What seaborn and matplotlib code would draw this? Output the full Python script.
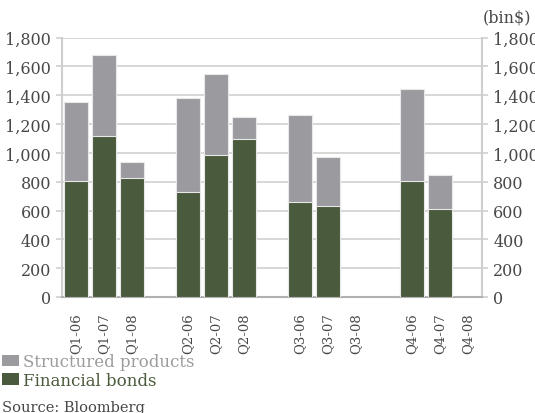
import matplotlib
matplotlib.use("Agg")
import matplotlib.pyplot as plt
from matplotlib.patches import Patch
import seaborn as sns
import pandas as pd

# Quarterly issuance, billions of dollars
quarters = ["Q1-06", "Q1-07", "Q1-08", "Q2-06", "Q2-07", "Q2-08",
            "Q3-06", "Q3-07", "Q4-06", "Q4-07"]
financial_bonds = [805, 1115, 825, 725, 985, 1097, 658, 630, 805, 611]
structured_products = [545, 565, 112, 655, 560, 150, 604, 344, 635, 236]

# Slot order along the x axis (blank slots separate the quarter groups)
slot_order = ["Q1-06", "Q1-07", "Q1-08", "gap1",
              "Q2-06", "Q2-07", "Q2-08", "gap2",
              "Q3-06", "Q3-07", "Q3-08", "gap3",
              "Q4-06", "Q4-07", "Q4-08"]
y_ticks = [0, 200, 400, 600, 800, 1000, 1200, 1400, 1600, 1800]

df = pd.DataFrame({
    "quarter": quarters,
    "financial": financial_bonds,
    "structured": structured_products,
})
df["total"] = df["financial"] + df["structured"]

GREY = "#9b9b9f"
GREEN = "#4a5a3c"
TEXT = "#484848"

sns.set_theme(style="white")
plt.rcParams["font.family"] = ["DejaVu Serif"]

fig = plt.figure(figsize=(5.35, 4.14), dpi=100)
ax = fig.add_axes([62 / 535, 1 - 298 / 414, 420 / 535, 259.5 / 414])

sns.barplot(data=df, x="quarter", y="total", order=slot_order, color=GREY,
            width=0.88, edgecolor="#e8e8e8", linewidth=0.8, saturation=1,
            ax=ax, zorder=3)
sns.barplot(data=df, x="quarter", y="financial", order=slot_order, color=GREEN,
            width=0.88, edgecolor="#e8e8e8", linewidth=0.8, saturation=1,
            ax=ax, zorder=4)

ax.set_xlim(-0.5, len(slot_order) - 0.5)
ax.set_ylim(0, 1800)
ax.set_yticks(y_ticks)
ax.set_yticklabels([f"{v:,}" for v in y_ticks])
ax.set_xticks(range(len(slot_order)))
ax.set_xticklabels(["" if s.startswith("gap") else s for s in slot_order],
                   rotation=90)
ax.set_xlabel("")
ax.set_ylabel("")

ax.grid(axis="y", color="#d4d4d4", linewidth=1.3, zorder=0)
ax.set_axisbelow(True)
for side in ("left", "right"):
    ax.spines[side].set_visible(True)
    ax.spines[side].set_color("#cfcfcf")
    ax.spines[side].set_linewidth(1.5)
ax.spines["top"].set_visible(False)
ax.spines["bottom"].set_color("#b0b0b0")
ax.spines["bottom"].set_linewidth(1.5)

ax.tick_params(axis="y", which="both", left=True, right=True,
               labelleft=True, labelright=True, length=4, width=1.2,
               color="#cfcfcf", labelsize=11.5, labelcolor=TEXT, pad=4)
ax.tick_params(axis="x", bottom=False, labelsize=9.5, labelcolor=TEXT, pad=5)

fig.text(483 / 535, 1 - 18 / 414, "(bin$)", fontsize=11.5, color=TEXT,
         va="center", ha="left")

handles = [Patch(facecolor=GREY, edgecolor="none"),
           Patch(facecolor=GREEN, edgecolor="none")]
leg = fig.legend(handles, ["Structured products", "Financial bonds"],
                 loc="upper left", bbox_to_anchor=(-0.002, 1 - 351 / 414),
                 frameon=False, fontsize=12, handlelength=1.0,
                 handleheight=0.7, handletextpad=0.25, labelspacing=0.1,
                 borderpad=0.2, borderaxespad=0)
leg.get_texts()[0].set_color("#9c9c9c")
leg.get_texts()[1].set_color(GREEN)

fig.text(2 / 535, 1 - 412 / 414, "Source: Bloomberg", fontsize=10.5,
         color=TEXT, va="baseline", ha="left")

fig.savefig("out.png", dpi=100)
